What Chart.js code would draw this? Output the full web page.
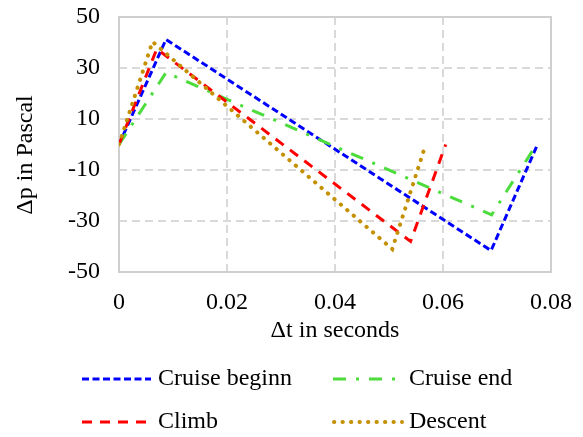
<!DOCTYPE html>
<html>
<head>
<meta charset="utf-8">
<script src="https://cdn.jsdelivr.net/npm/chart.js@4/dist/chart.umd.min.js"></script>
<style>
html,body{margin:0;padding:0;background:#fff;}
canvas{display:block;}
</style>
</head>
<body>
<canvas id="c" width="583" height="437"></canvas>
<script>
// ---- data ----
const seriesNames = ['Cruise beginn', 'Cruise end', 'Climb', 'Descent'];
const cruiseBeginT = [0, 0.0087, 0.0689, 0.0775];
const cruiseBeginP = [0, 41.2, -41.6, 0];
const cruiseEndT   = [0, 0.0087, 0.0690, 0.0773];
const cruiseEndP   = [0, 28.2, -27.6, 0];
const climbT       = [0, 0.0070, 0.0540, 0.0605];
const climbP       = [0, 37.5, -38.0, 0];
const descentT     = [0, 0.0062, 0.0506, 0.0568];
const descentP     = [0, 40.3, -41.0, 0];
const xTickLabels  = ['0', '0.02', '0.04', '0.06', '0.08'];
const yTickLabels  = ['-50', '-30', '-10', '10', '30', '50'];
const xTitle = 'Δt in seconds';
const yTitle = 'Δp in Pascal';

const FONT = '"Liberation Serif", "Times New Roman", serif';
const toPts = (xs, ys) => xs.map((x, i) => ({x: x, y: ys[i]}));

const styles = [
  {color: '#0000ff', dash: [7, 3.5], cap: 'butt', width: 3},
  {color: '#4cdc3c', dash: [13, 10, 3, 10], cap: 'butt', width: 3},
  {color: '#ff0000', dash: [10, 8], cap: 'butt', width: 3},
  {color: '#c49000', dash: [0.3, 8.2], cap: 'round', width: 4}
];
const seriesData = [
  toPts(cruiseBeginT, cruiseBeginP),
  toPts(cruiseEndT, cruiseEndP),
  toPts(climbT, climbP),
  toPts(descentT, descentP)
];

const datasets = seriesNames.map((name, i) => ({
  label: name,
  data: seriesData[i],
  showLine: true,
  borderColor: styles[i].color,
  backgroundColor: styles[i].color,
  borderWidth: styles[i].width,
  borderDash: styles[i].dash,
  borderCapStyle: styles[i].cap,
  borderJoinStyle: 'miter',
  pointRadius: 0,
  pointHoverRadius: 0,
  tension: 0,
  fill: false,
  order: seriesNames.length - i
}));

const boxPlugin = {
  id: 'box',
  beforeDatasetsDraw(chart) {
    const {ctx, chartArea: a} = chart;
    ctx.save();
    ctx.strokeStyle = '#cfcfcf';
    ctx.lineWidth = 2;
    ctx.setLineDash([]);
    ctx.strokeRect(a.left, a.top, a.right - a.left, a.bottom - a.top);
    ctx.restore();
  },
  afterDraw(chart) {
    const {ctx} = chart;
    const items = [
      {i: 0, x0: 82, x1: 151, y: 379, tx: 158},
      {i: 1, x0: 333, x1: 398, y: 379, tx: 409},
      {i: 2, x0: 82, x1: 148, y: 422, tx: 158},
      {i: 3, x0: 334, x1: 402, y: 422, tx: 409}
    ];
    ctx.save();
    items.forEach(it => {
      const s = styles[it.i];
      ctx.beginPath();
      ctx.strokeStyle = s.color;
      ctx.lineWidth = s.width;
      ctx.lineCap = s.cap;
      ctx.setLineDash(s.dash);
      ctx.moveTo(it.x0, it.y);
      ctx.lineTo(it.x1, it.y);
      ctx.stroke();
      ctx.setLineDash([]);
      ctx.fillStyle = '#000';
      ctx.font = '24px ' + FONT;
      ctx.textBaseline = 'middle';
      ctx.textAlign = 'left';
      ctx.fillText(seriesNames[it.i], it.tx, it.y);
    });
    // y axis title
    ctx.translate(26, 155);
    ctx.rotate(-Math.PI / 2);
    ctx.textAlign = 'center';
    ctx.textBaseline = 'middle';
    ctx.font = '24px ' + FONT;
    ctx.fillStyle = '#000';
    ctx.fillText(yTitle, 0, 0);
    ctx.restore();
  }
};

const gridColor = (ctx) => {
  const n = ctx.chart.scales[ctx.scale.id].ticks.length;
  return (ctx.index === 0 || ctx.index === n - 1) ? 'rgba(0,0,0,0)' : '#d9d9d9';
};

new Chart(document.getElementById('c'), {
  type: 'scatter',
  data: {datasets: datasets},
  plugins: [boxPlugin],
  options: {
    responsive: false,
    animation: false,
    devicePixelRatio: 1,
    layout: {padding: {top: 17, right: 32, bottom: 90, left: 0}},
    plugins: {legend: {display: false}, tooltip: {enabled: false}},
    scales: {
      x: {
        type: 'linear', min: 0, max: 0.08,
        afterFit(s) { s.height = 75; s.paddingLeft = 0; s.paddingRight = 0; },
        ticks: {
          stepSize: 0.02, color: '#000', padding: 16,
          font: {family: FONT, size: 24},
          maxRotation: 0,
          callback: (v, i) => xTickLabels[i]
        },
        grid: {color: gridColor, lineWidth: 2, drawTicks: false},
        border: {display: false, dash: [8, 5]},
        title: {display: true, text: xTitle, color: '#000', font: {family: FONT, size: 24}, padding: {top: 0, bottom: 2}}
      },
      y: {
        type: 'linear', min: -50, max: 50,
        afterFit(s) { s.width = 119; s.paddingTop = 0; s.paddingBottom = 0; },
        ticks: {
          stepSize: 20, color: '#000', padding: 19,
          font: {family: FONT, size: 24},
          callback: (v, i) => yTickLabels[i]
        },
        grid: {color: gridColor, lineWidth: 2, drawTicks: false},
        border: {display: false, dash: [8, 5]}
      }
    }
  }
});
</script>
</body>
</html>
